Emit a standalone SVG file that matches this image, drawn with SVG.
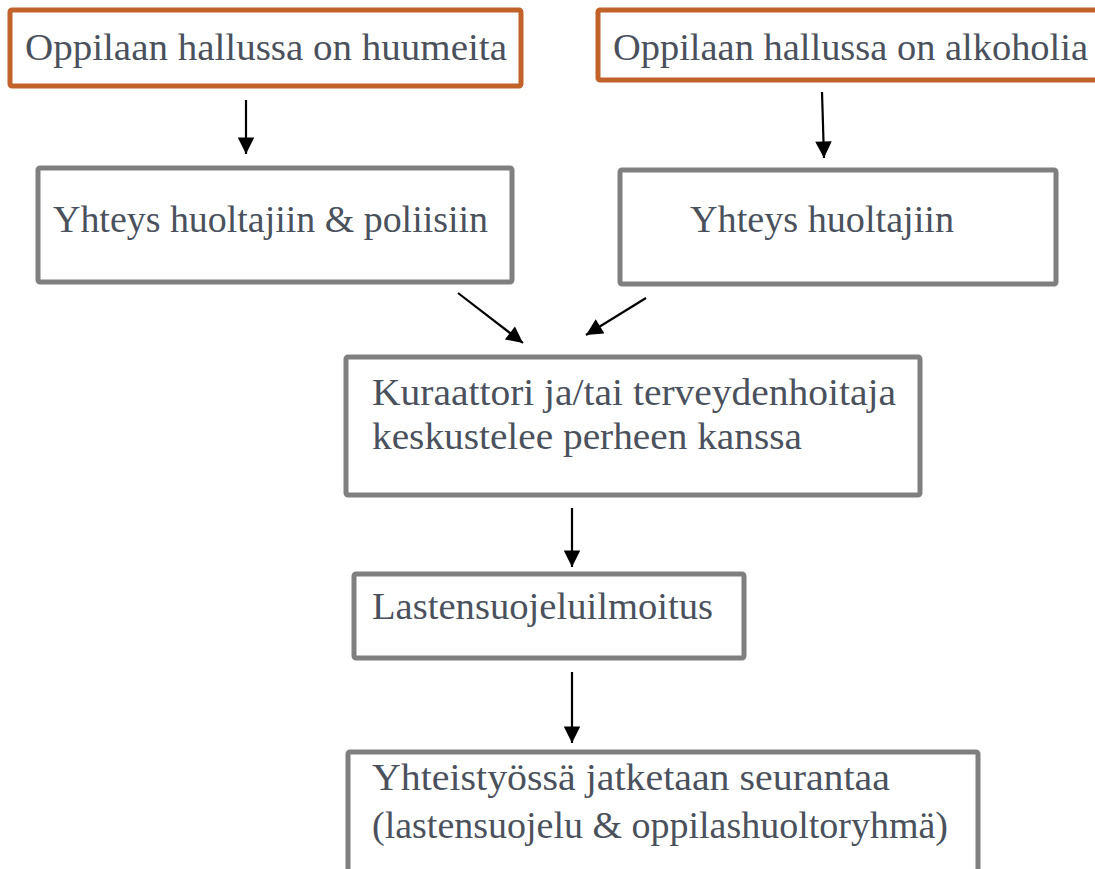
<svg xmlns="http://www.w3.org/2000/svg" width="1095" height="869" viewBox="0 0 1095 869">
<style>
.box{fill:#fff;stroke-width:5}
.o{stroke:#c0622a}
.g{stroke:#7f7f7f}
.t{font-family:"Liberation Serif","DejaVu Serif",serif;font-size:38px;fill:#4a515c}
.c{stroke:#000;stroke-width:2.2;fill:none;marker-end:url(#ah)}
</style>
<defs>
<marker id="ah" viewBox="0 0 10 10" refX="10" refY="5" markerWidth="8" markerHeight="7.5" orient="auto" markerUnits="strokeWidth">
<path d="M0,0 L10,5 L0,10 z" fill="#000"/>
</marker>
</defs>
<rect width="1095" height="869" fill="#fff"/>
<g id="n1">
<rect class="box o" x="10" y="10" width="511" height="76" rx="2"/>
<text class="t" x="25" y="60" textLength="482" lengthAdjust="spacingAndGlyphs">Oppilaan hallussa on huumeita</text>
</g>
<g id="n2">
<rect class="box o" x="598" y="10" width="520" height="70" rx="2"/>
<text class="t" x="613" y="60" textLength="475" lengthAdjust="spacingAndGlyphs">Oppilaan hallussa on alkoholia</text>
</g>
<g id="n3">
<rect class="box g" x="38" y="168" width="474" height="114" rx="2"/>
<text class="t" x="53" y="232" textLength="435" lengthAdjust="spacingAndGlyphs">Yhteys huoltajiin &amp; poliisiin</text>
</g>
<g id="n4">
<rect class="box g" x="620" y="170" width="436" height="114" rx="2"/>
<text class="t" x="690" y="232" textLength="264" lengthAdjust="spacingAndGlyphs">Yhteys huoltajiin</text>
</g>
<g id="n5">
<rect class="box g" x="346" y="357" width="574" height="138" rx="2"/>
<text class="t" x="372" y="405" textLength="524" lengthAdjust="spacingAndGlyphs">Kuraattori ja/tai terveydenhoitaja</text>
<text class="t" x="372" y="449" textLength="430" lengthAdjust="spacingAndGlyphs">keskustelee perheen kanssa</text>
</g>
<g id="n6">
<rect class="box g" x="354" y="574" width="390" height="84" rx="2"/>
<text class="t" x="372" y="619" textLength="341" lengthAdjust="spacingAndGlyphs">Lastensuojeluilmoitus</text>
</g>
<g id="n7">
<rect class="box g" x="348" y="752" width="630" height="130" rx="2"/>
<text class="t" x="372" y="790" textLength="518" lengthAdjust="spacingAndGlyphs">Yhteistyössä jatketaan seurantaa</text>
<text class="t" x="372" y="838" textLength="576" lengthAdjust="spacingAndGlyphs">(lastensuojelu &amp; oppilashuoltoryhmä)</text>
</g>
<g id="connectors">
<line class="c" x1="246" y1="100" x2="246" y2="154"/>
<line class="c" x1="822" y1="92" x2="824" y2="158"/>
<line class="c" x1="458" y1="293" x2="523" y2="343"/>
<line class="c" x1="646" y1="298" x2="586" y2="335"/>
<line class="c" x1="572" y1="508" x2="572" y2="567"/>
<line class="c" x1="572" y1="672" x2="572" y2="743"/>
</g>
</svg>
